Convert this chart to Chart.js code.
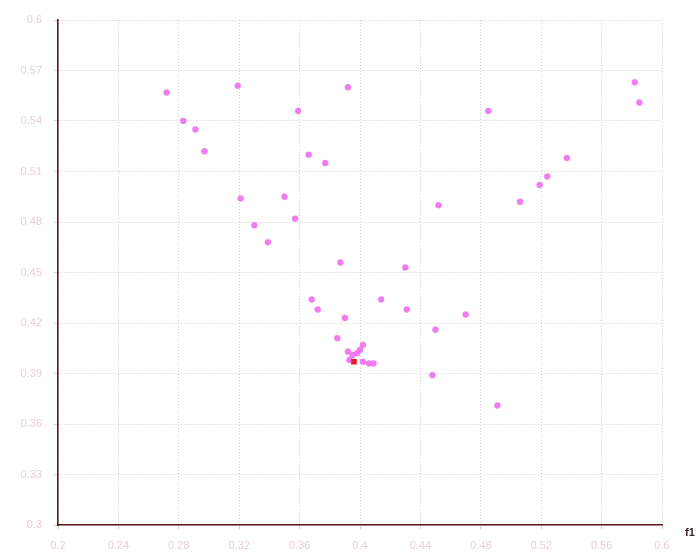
<!DOCTYPE html>
<html lang="en">
<head>
    <meta charset="UTF-8">
    <title>f1 scatter</title>
    <script src="https://cdn.jsdelivr.net/npm/chart.js"></script>
    <style>
        body { margin: 0; background: #fff; }
        #wrap { width: 696px; height: 559px; }
    </style>
</head>
<body>
    <div id="wrap"><canvas id="scatterChart" width="696" height="559"></canvas></div>

    <script>
        // values
        const f1Values = [0.272, 0.319, 0.392, 0.283, 0.291, 0.297, 0.359, 0.366, 0.377, 0.321,
                          0.350, 0.357, 0.330, 0.339, 0.387, 0.430, 0.368, 0.414, 0.372, 0.431,
                          0.390, 0.385, 0.392, 0.395, 0.398, 0.400, 0.402, 0.393, 0.402, 0.406,
                          0.409, 0.452, 0.506, 0.470, 0.450, 0.448, 0.491, 0.485, 0.582, 0.585,
                          0.537, 0.524, 0.519];
        const f2Values = [0.557, 0.561, 0.560, 0.540, 0.535, 0.522, 0.546, 0.520, 0.515, 0.494,
                          0.495, 0.482, 0.478, 0.468, 0.456, 0.453, 0.434, 0.434, 0.428, 0.428,
                          0.423, 0.411, 0.403, 0.401, 0.402, 0.404, 0.407, 0.398, 0.397, 0.396,
                          0.396, 0.490, 0.492, 0.425, 0.416, 0.389, 0.371, 0.546, 0.563, 0.551,
                          0.518, 0.507, 0.502];
        const markedF1 = [0.396];
        const markedF2 = [0.397];

        const xTicks = [0.2, 0.24, 0.28, 0.32, 0.36, 0.4, 0.44, 0.48, 0.52, 0.56, 0.6];
        const yTicks = [0.3, 0.33, 0.36, 0.39, 0.42, 0.45, 0.48, 0.51, 0.54, 0.57, 0.6];
        const xAxisName = 'f1';

        const toPoints = (xs, ys) => xs.map((x, i) => ({ x: x, y: ys[i] }));

        const axisNamePlugin = {
            id: 'axisName',
            afterDraw: (chart) => {
                const ctx = chart.ctx;
                ctx.save();
                ctx.font = 'bold 11px "Liberation Sans", Arial, sans-serif';
                ctx.fillStyle = '#3a2a2a';
                ctx.textBaseline = 'middle';
                ctx.fillText(xAxisName, 685, chart.chartArea.bottom + 8);
                ctx.restore();
            }
        };

        const gridStyle = {
            color: '#cfcfcf',
            lineWidth: 1,
            tickLength: 4,
            tickColor: '#cfcfcf'
        };
        const axisBorder = { color: '#5a1c1c', width: 1.6, dash: [1, 2] };
        const tickFont = { family: '"Liberation Sans", Arial, sans-serif', size: 11 };

        new Chart(document.getElementById('scatterChart'), {
            type: 'scatter',
            data: {
                datasets: [
                    {
                        data: toPoints(markedF1, markedF2),
                        pointStyle: 'rect',
                        pointRadius: 4,
                        backgroundColor: '#e0202e',
                        borderColor: '#e0202e',
                        borderWidth: 0
                    },
                    {
                        data: toPoints(f1Values, f2Values),
                        pointRadius: 3,
                        backgroundColor: 'rgba(238, 100, 238, 0.85)',
                        borderColor: 'rgba(238, 120, 238, 0.9)',
                        borderWidth: 0.5
                    }
                ]
            },
            options: {
                responsive: false,
                animation: false,
                layout: { padding: { top: 20, right: 34, left: 0, bottom: 0 } },
                plugins: {
                    legend: { display: false },
                    tooltip: { enabled: false }
                },
                scales: {
                    x: {
                        type: 'linear',
                        min: xTicks[0],
                        max: xTicks[xTicks.length - 1],
                        afterBuildTicks: (scale) => { scale.ticks = xTicks.map(v => ({ value: v })); },
                        afterFit: (scale) => { scale.height = 34; },
                        grid: gridStyle,
                        border: axisBorder,
                        ticks: {
                            color: '#e6d2d2',
                            font: tickFont,
                            padding: 10,
                            callback: (v) => String(Number(v.toFixed(2)))
                        }
                    },
                    y: {
                        type: 'linear',
                        min: yTicks[0],
                        max: yTicks[yTicks.length - 1],
                        afterBuildTicks: (scale) => { scale.ticks = yTicks.map(v => ({ value: v })); },
                        afterFit: (scale) => { scale.width = 58; },
                        grid: gridStyle,
                        border: axisBorder,
                        ticks: {
                            color: '#e6d2d2',
                            font: tickFont,
                            padding: 12,
                            callback: (v) => String(Number(v.toFixed(2)))
                        }
                    }
                }
            },
            plugins: [axisNamePlugin]
        });
    </script>
</body>
</html>
